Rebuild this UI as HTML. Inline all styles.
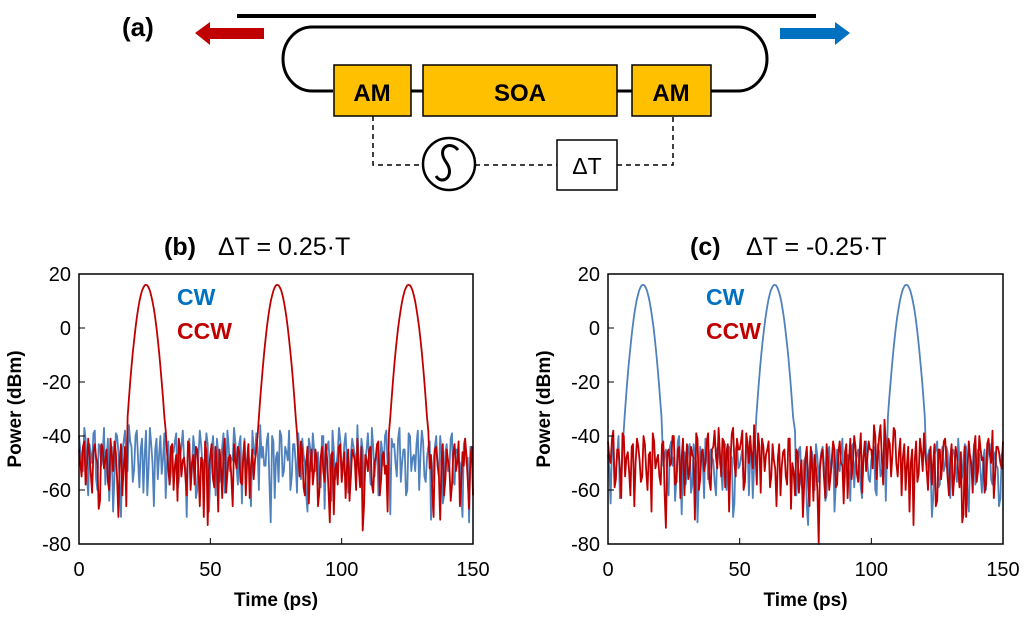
<!DOCTYPE html>
<html><head><meta charset="utf-8"><style>
body{margin:0;background:#fff;width:1024px;height:614px;overflow:hidden;font-family:"Liberation Sans",sans-serif}
svg text{font-family:"Liberation Sans",sans-serif}
</style></head><body>
<svg id="root" width="1024" height="614" viewBox="0 0 1024 614" xmlns="http://www.w3.org/2000/svg">
<g>
<text x="122" y="36" font-size="26" font-weight="bold">(a)</text>
<line x1="237" y1="16" x2="816" y2="16" stroke="#000" stroke-width="4"/>
<path d="M333 91 H312 A29 32 0 0 1 312 27 H738 A29 32 0 0 1 738 91 H711" fill="none" stroke="#000" stroke-width="3"/>
<line x1="411" y1="91" x2="423" y2="91" stroke="#000" stroke-width="3"/>
<line x1="617" y1="91" x2="632" y2="91" stroke="#000" stroke-width="3"/>
<polygon points="195,33 210,22 210,28 264,28 264,39 210,39 210,45" fill="#c00000"/>
<polygon points="850,33 835,22 835,28 780,28 780,39 835,39 835,45" fill="#0070c0"/>
<rect x="334" y="65" width="77" height="51" fill="#ffc000" stroke="#000" stroke-width="1.5"/>
<rect x="423" y="65" width="194" height="51" fill="#ffc000" stroke="#000" stroke-width="1.5"/>
<rect x="632" y="65" width="79" height="51" fill="#ffc000" stroke="#000" stroke-width="1.5"/>
<text x="372" y="101" font-size="24" font-weight="bold" text-anchor="middle">AM</text>
<text x="520" y="101" font-size="24" font-weight="bold" text-anchor="middle">SOA</text>
<text x="671" y="101" font-size="24" font-weight="bold" text-anchor="middle">AM</text>
<path d="M373 116 V165 H423 M475 165 H557 M617 165 H673 V116" fill="none" stroke="#000" stroke-width="1.5" stroke-dasharray="5,4"/>
<circle cx="449" cy="164" r="26" fill="#fff" stroke="#000" stroke-width="2.5"/>
<path d="M458 150 C450 140 436 148 446 162 C456 176 442 186 436 176" fill="none" stroke="#000" stroke-width="3"/>
<rect x="557" y="140" width="60" height="50" fill="#fff" stroke="#000" stroke-width="1.5"/>
<text x="587" y="174" font-size="23" text-anchor="middle">ΔT</text>
</g>
<g><text x="164" y="255" font-size="25" font-weight="bold">(b)</text><text x="218" y="255" font-size="25">ΔT = 0.25·T</text></g>
<g><text x="690" y="255" font-size="25" font-weight="bold">(c)</text><text x="746" y="255" font-size="25">ΔT = -0.25·T</text></g>
<g id="plots"></g>
</svg>
<script>
const xTicks=[0,50,100,150];
const yTicks=[20,0,-20,-40,-60,-80];
const pulseOffsets=[-7,-6.5,-6,-5.5,-5,-4.5,-4,-3.5,-3,-2.5,-2,-1.5,-1,-0.5,0,0.5,1,1.5,2,2.5,3,3.5,4,4.5,5,5.5,6,6.5,7];
const pulseValues=[-33,-26.3,-20,-14.3,-9,-4.3,0,3.8,7,9.8,12,13.8,15,15.8,16,15.8,15,13.8,12,9.8,7,3.8,0,-4.3,-9,-14.3,-20,-26.3,-33];
const pulseCentersB=[25.5,75.5,125.5];
const pulseCentersC=[13.3,63.3,113.3];
const redB=[-45,-55,-42,-52,-47,-61,-43,-50,-64,-44,-49,-57,-41,-53,-46,-70,-43,-51,-66,-39,
-40,-40,-40,-40,-40,-40,-40,-40,-40,-40,-40,-40,-40,-38,-52,-44,-60,-47,-41,-55,
-48,-62,-43,-50,-58,-45,-66,-49,-42,-73,-47,-56,-44,-68,-50,-45,-61,-48,-55,-43,
-52,-46,-58,-42,-50,-63,-45,-49,-40,-54,-40,-40,-40,-40,-40,-40,-40,-40,-40,-40,
-40,-40,-40,-39,-55,-46,-62,-44,-51,-58,-45,-66,-48,-53,-43,-60,-47,-69,-50,-44,
-57,-46,-52,-64,-45,-49,-41,-59,-75,-47,-53,-44,-61,-48,-42,-56,-46,-51,-39,-50,
-40,-40,-40,-40,-40,-40,-40,-40,-40,-40,-40,-40,-40,-38,-47,-70,-44,-55,-49,-62,
-45,-52,-58,-43,-50,-66,-46,-41,-56,-48,-62];
const redBmid=[-50,-44,-58,-41,-54,-46,-48,-67,-43,-52,-45,-60,-47,-42,-56,-49,-62,-44,-50,-41,
-40,-40,-40,-40,-40,-40,-40,-40,-40,-40,-40,-40,-40,-46,-58,-43,-51,-64,-45,-49,
-55,-42,-60,-47,-44,-53,-48,-70,-46,-52,-43,-59,-50,-45,-63,-41,-54,-47,-66,-49,
-44,-57,-48,-62,-43,-51,-56,-45,-68,-47,-40,-40,-40,-40,-40,-40,-40,-40,-40,-40,
-40,-40,-40,-47,-42,-59,-50,-65,-45,-53,-48,-61,-44,-57,-49,-72,-46,-52,-58,-43,
-50,-63,-45,-55,-47,-60,-52,-44,-66,-49,-45,-58,-50,-43,-62,-47,-54,-68,-46,-44,
-40,-40,-40,-40,-40,-40,-40,-40,-40,-40,-40,-40,-40,-52,-60,-45,-50,-71,-43,-56,
-49,-64,-46,-53,-42,-58,-51,-47,-67,-44];
const blueB=[-40,-48,-37,-55,-43,-50,-38,-60,-44,-47,-58,-41,-52,-68,-39,-46,-70,-42,-49,-36,
-44,-52,-38,-59,-41,-47,-62,-37,-50,-45,-56,-40,-48,-63,-42,-54,-46,-39,-57,-44,
-49,-70,-41,-53,-45,-60,-38,-51,-47,-43,-55,-40,-62,-46,-50,-39,-58,-44,-48,-37,
-52,-43,-65,-41,-49,-56,-38,-47,-45,-36,-44,-51,-39,-72,-42,-48,-57,-40,-53,-46,
-38,-55,-43,-61,-47,-41,-50,-68,-44,-39,-53,-46,-59,-40,-48,-42,-64,-45,-51,-37,
-56,-43,-49,-60,-41,-47,-36,-54,-45,-50,-39,-58,-44,-48,-62,-42,-51,-38,-46,-41,
-43,-55,-37,-50,-45,-60,-40,-48,-53,-38,-47,-42,-57,-44,-71,-49,-40,-55,-46,-62,
-43,-52,-39,-58,-45,-50,-70,-41,-48,-44,-47];
const blueBmid=[-45,-53,-41,-62,-47,-39,-56,-43,-51,-37,-49,-64,-44,-55,-40,-58,-46,-38,-53,-42,
-57,-40,-49,-45,-61,-38,-52,-43,-66,-41,-47,-54,-39,-50,-58,-44,-42,-60,-48,-38,
-52,-45,-59,-40,-63,-47,-43,-55,-39,-68,-46,-50,-41,-57,-44,-61,-38,-53,-49,-42,
-58,-40,-47,-54,-43,-66,-45,-39,-60,-48,-51,-42,-57,-40,-63,-46,-38,-55,-44,-49,
-60,-43,-50,-39,-56,-47,-62,-41,-53,-45,-48,-58,-40,-67,-44,-51,-38,-56,-46,-42,
-53,-39,-61,-47,-44,-58,-50,-41,-64,-45,-49,-37,-55,-43,-59,-46,-40,-52,-69,-44,
-50,-41,-57,-45,-62,-39,-53,-47,-43,-60,-38,-55,-48,-42,-58,-44,-51,-40,-65,-46,
-53,-41,-57,-45,-49,-61,-43,-50,-72,-47];
const redC=[-42,-50,-38,-56,-45,-63,-40,-48,-53,-44,-66,-41,-49,-55,-43,-60,-46,-39,-52,-47,
-58,-42,-74,-45,-50,-40,-57,-44,-48,-62,-43,-53,-47,-71,-41,-56,-45,-50,-39,-60,
-44,-48,-37,-55,-42,-46,-68,-39,-50,-41,-45,-38,-57,-43,-40,-52,-46,-39,-61,-44,
-47,-42,-55,-49,-66,-43,-51,-45,-58,-41,-50,-62,-46,-54,-70,-48,-57,-44,-64,-52,
-80,-47,-55,-43,-60,-49,-45,-58,-42,-51,-46,-63,-41,-50,-44,-57,-39,-48,-53,-42,
-45,-36,-56,-40,-49,-34,-52,-43,-47,-38,-55,-41,-48,-60,-44,-50,-73,-42,-54,-46,
-39,-52,-47,-58,-43,-64,-45,-50,-41,-56,-48,-62,-44,-53,-46,-69,-70,-42,-51,-45,
-57,-40,-49,-61,-43,-47,-38,-55,-44,-50,-42];
const redCmid=[-48,-41,-59,-45,-52,-39,-55,-46,-62,-43,-50,-44,-57,-40,-53,-47,-68,-42,-49,-55,
-43,-61,-46,-51,-40,-58,-45,-63,-41,-50,-56,-44,-48,-39,-60,-46,-53,-42,-57,-45,
-38,-52,-46,-41,-59,-43,-49,-37,-55,-45,-42,-60,-39,-50,-47,-36,-58,-44,-41,-53,
-45,-59,-43,-52,-48,-62,-46,-55,-41,-67,-53,-45,-61,-49,-58,-44,-66,-51,-47,-60,
-52,-45,-63,-48,-55,-42,-59,-46,-50,-65,-43,-49,-56,-40,-54,-46,-61,-42,-48,-45,
-52,-40,-47,-36,-58,-43,-41,-55,-37,-50,-46,-62,-43,-51,-68,-45,-49,-57,-41,-53,
-47,-60,-44,-50,-66,-45,-56,-42,-48,-62,-43,-55,-47,-59,-72,-44,-52,-48,-61,-40,
-53,-45,-48,-58,-41,-50,-63,-44,-46,-52];
const blueC=[-47,-65,-44,-52,-40,-58,-69,-45,-50,-42,-55,-48,-43,-60,-46,-41,-53,-49,-44,-57,
-38,-51,-45,-62,-42,-48,-55,-40,-69,-46,-52,-43,-58,-47,-72,-44,-50,-41,-56,-45,
-49,-62,-42,-53,-46,-60,-44,-48,-65,-43,-51,-45,-57,-42,-47,-63,-44,-50,-41,-55,
-46,-52,-43,-58,-47,-40,-54,-49,-45,-60,-42,-38,-56,-44,-61,-48,-73,-45,-52,-43,
-57,-46,-50,-62,-44,-49,-68,-45,-53,-41,-55,-47,-64,-43,-50,-45,-59,-48,-42,-56,
-49,-44,-62,-46,-53,-41,-57,-48,-45,-66,-43,-51,-47,-59,-44,-50,-42,-55,-48,-60,
-38,-53,-45,-70,-47,-42,-58,-44,-51,-46,-63,-45,-52,-41,-57,-48,-44,-68,-50,-43,
-55,-47,-61,-45,-50,-43,-58,-46,-52,-63,-45];
const blueCmid=[-52,-43,-58,-47,-63,-45,-50,-41,-56,-48,-44,-60,-46,-53,-42,-57,-45,-66,-49,-43,
-55,-47,-59,-44,-51,-64,-42,-53,-46,-58,-45,-61,-43,-50,-56,-47,-63,-44,-52,-48,
-57,-45,-50,-60,-43,-54,-47,-70,-45,-52,-48,-59,-44,-62,-46,-51,-57,-43,-49,-61,
-45,-56,-48,-43,-65,-47,-52,-58,-44,-50,-47,-62,-45,-58,-49,-66,-52,-46,-60,-48,
-50,-44,-64,-47,-55,-43,-58,-50,-46,-61,-48,-53,-44,-59,-47,-52,-63,-45,-50,-57,
-46,-60,-43,-55,-49,-64,-45,-51,-47,-58,-48,-62,-44,-53,-47,-57,-45,-61,-49,-43,
-56,-47,-51,-63,-45,-59,-48,-53,-44,-60,-50,-46,-57,-49,-55,-43,-62,-47,-52,-58,
-45,-54,-48,-60,-44,-56,-49,-51,-66,-47];

const NS="http://www.w3.org/2000/svg";
const plots=document.getElementById('plots');
function mk(tag,attrs,parent){const e=document.createElementNS(NS,tag);for(const k in attrs)e.setAttribute(k,attrs[k]);(parent||plots).appendChild(e);return e;}

function buildSeries(noise,mid,centers){
  const pts=[];
  const inside=t=>centers.some(c=>Math.abs(t-c)<7.5);
  for(let t=0;t<noise.length;t++){
    if(!inside(t))pts.push([t,noise[t]]);
    centers.forEach(c=>{if(t<=c-7.5&&t+0.5>c-7.5){pulseOffsets.forEach((o,i)=>pts.push([c+o,pulseValues[i]]));}});
    if(t<mid.length){
      const tm=t+0.5;
      if(!inside(tm))pts.push([tm,mid[t]]);
      centers.forEach(c=>{if(tm<=c-7.5&&tm+0.5>c-7.5){pulseOffsets.forEach((o,i)=>pts.push([c+o,pulseValues[i]]));}});
    }
  }
  return pts;
}

function drawPlot(id,L,R,T,B,series){
  const g=mk('g',{});
  
  
  const xs=t=>L+(t-0)/150*(R-L);
  const ys=v=>T+(20-v)/100*(B-T);
  series.forEach(s=>{
    const p=mk('polyline',{points:s.pts.map(q=>xs(q[0]).toFixed(1)+','+ys(q[1]).toFixed(1)).join(' '),fill:'none',stroke:s.color,'stroke-width':1.8,'stroke-linejoin':'round'},g);
    
    
  });
  const fr=mk('rect',{x:L,y:T,width:R-L,height:B-T,fill:'none',stroke:'#000','stroke-width':1.5},g);
  
  
  yTicks.forEach(v=>{
    mk('line',{x1:L,x2:L+6,y1:ys(v),y2:ys(v),stroke:'#000','stroke-width':1},g);
    const t=mk('text',{x:L-8,y:ys(v)+7,'font-size':20,'text-anchor':'end'},g);t.textContent=v;
    
    
  });
  xTicks.forEach(v=>{
    mk('line',{x1:xs(v),x2:xs(v),y1:B,y2:B-6,stroke:'#000','stroke-width':1},g);
    const t=mk('text',{x:xs(v),y:B+32,'font-size':20,'text-anchor':'middle'},g);t.textContent=v;
    
    
  });
  const xt=mk('text',{x:(L+R)/2,y:B+62,'font-size':19,'font-weight':'bold','text-anchor':'middle'},g);xt.textContent='Time (ps)';
  
  
  const yt=mk('text',{x:0,y:0,'font-size':19,'font-weight':'bold','text-anchor':'middle',transform:`translate(${L-58},${(T+B)/2}) rotate(-90)`},g);yt.textContent='Power (dBm)';
  
  
  const l1=mk('text',{x:L+98,y:T+31,'font-size':23,'font-weight':'bold',fill:'#0070c0'},g);l1.textContent='CW';
  
  
  const l2=mk('text',{x:L+98,y:T+65,'font-size':23,'font-weight':'bold',fill:'#c00000'},g);l2.textContent='CCW';
  
  
}
drawPlot('b',79,473,274,544,[
  {name:'cw-series-b',color:'#4f81bd',pts:buildSeries(blueB,blueBmid,[])},
  {name:'ccw-series-b',color:'#c00000',pts:buildSeries(redB,redBmid,pulseCentersB)}
]);
drawPlot('c',608,1003,274,544,[
  {name:'cw-series-c',color:'#4f81bd',pts:buildSeries(blueC,blueCmid,pulseCentersC)},
  {name:'ccw-series-c',color:'#c00000',pts:buildSeries(redC,redCmid,[])}
]);
</script>
</body></html>
